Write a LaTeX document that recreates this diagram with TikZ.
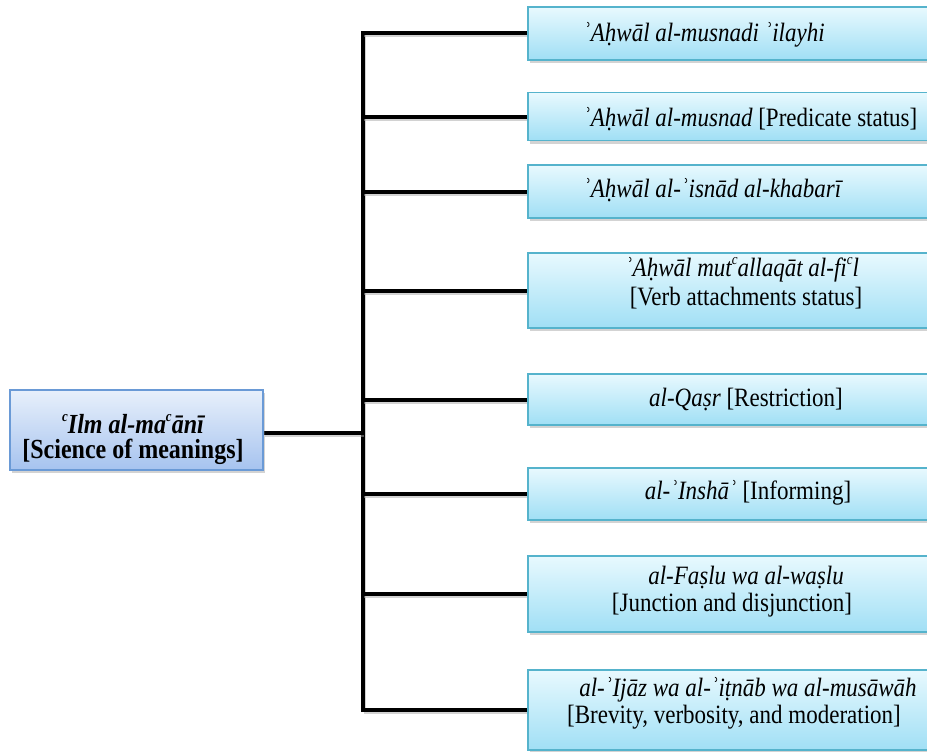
\documentclass[tikz,border=0pt]{standalone}
\usepackage{fontspec}
\setmainfont{Liberation Serif}
\usetikzlibrary{shadows,backgrounds}

\definecolor{leafline}{HTML}{55B3CC}
\definecolor{leaftop}{HTML}{E8F9FE}
\definecolor{leafbot}{HTML}{A0DFF5}
\definecolor{rootline}{HTML}{6A9AD6}
\definecolor{roottop}{HTML}{E8F0FB}
\definecolor{rootbot}{HTML}{A6C3EF}

% small raised c standing for the letter ayn
\newcommand{\ay}{\raisebox{0.42em}{\fontsize{13}{13}\selectfont c}}
% slightly tall lettering
\newcommand{\tall}[1]{\scalebox{1}[1.15]{#1}}

\begin{document}
\begin{tikzpicture}[x=1pt,y=-1pt,
  leaf/.style={draw=leafline, line width=1.2pt, top color=leaftop, bottom color=leafbot,
    minimum width=436pt, inner sep=0pt,
    drop shadow={shadow xshift=1.5pt, shadow yshift=-3pt, opacity=0.35}},
  rootbox/.style={draw=rootline, line width=1.2pt, top color=roottop, bottom color=rootbot,
    minimum width=253pt, minimum height=80pt, inner sep=0pt,
    drop shadow={shadow xshift=1.5pt, shadow yshift=-3pt, opacity=0.35}},
  lbl/.style={font=\fontsize{23}{28}\selectfont, inner sep=0pt},
  rootlbl/.style={font=\fontsize{24}{28}\selectfont\bfseries, inner sep=0pt},
  link/.style={line width=4pt, black, line cap=rect,
    preaction={draw=black!35, opacity=0.5, line width=4pt, transform canvas={xshift=1pt,yshift=-2pt}}}
]
\useasboundingbox (0,0) rectangle (927,752);
\clip (0,0) rectangle (927,752);

% root box
\node[rootbox] (root) at (136.5,430) {};
\node[rootlbl, anchor=base] (r1) at (133,433) {\tall{\itshape\ay Ilm al-ma\ay ānī}};
\node[rootlbl, anchor=base] (r2) at (133,458) {\tall{[Science of meanings]}};

% branch boxes
\node[leaf, minimum height=53pt] (b1) at (746,33.5) {};
\node[leaf, minimum height=48pt] (b2) at (746,116.5) {};
\node[leaf, minimum height=53pt] (b3) at (746,191.5) {};
\node[leaf, minimum height=75pt] (b4) at (746,290.5) {};
\node[leaf, minimum height=51pt] (b5) at (746,399.5) {};
\node[leaf, minimum height=52pt] (b6) at (746,494) {};
\node[leaf, minimum height=76pt] (b7) at (746,594) {};
\node[leaf, minimum height=80pt] (b8) at (746,710) {};

% labels
\node[lbl, anchor=base west] (t1) at (583,42) {\tall{\itshape ʾAḥwāl al-musnadi ʾilayhi}};
\node[lbl, anchor=base west] (t2) at (583,126) {\tall{\textit{ʾAḥwāl al-musnad} [Predicate status]}};
\node[lbl, anchor=base west] (t3) at (583,197) {\tall{\itshape ʾAḥwāl al-ʾisnād al-khabarī}};
\node[lbl, anchor=base] (t4a) at (742,276) {\tall{\itshape ʾAḥwāl mut\ay allaqāt al-fi\ay l}};
\node[lbl, anchor=base] (t4b) at (746,305) {\tall{[Verb attachments status]}};
\node[lbl, anchor=base] (t5) at (746,406) {\tall{\textit{al-Qaṣr} [Restriction]}};
\node[lbl, anchor=base] (t6) at (748,499) {\tall{\textit{al-ʾInshāʾ} [Informing]}};
\node[lbl, anchor=base] (t7a) at (746,584) {\tall{\itshape al-Faṣlu wa al-waṣlu}};
\node[lbl, anchor=base] (t7b) at (732,611) {\tall{[Junction and disjunction]}};
\node[lbl, anchor=base] (t8a) at (748,696) {\tall{\itshape al-ʾIjāz wa al-ʾiṭnāb wa al-musāwāh}};
\node[lbl, anchor=base] (t8b) at (734,723) {\tall{[Brevity, verbosity, and moderation]}};

% connectors
\coordinate (spine) at (363,0);
\begin{scope}[on background layer]
  \draw[link] (b1.west -| spine) -- (b8.west -| spine);
  \draw[link] ([yshift=-3pt]root.east) -- ([yshift=-3pt]root.east -| spine);
  \foreach \b in {b1,b2,b3,b4,b5,b6,b7,b8}
    \draw[link] (\b.west -| spine) -- (\b.west);
\end{scope}
\end{tikzpicture}
\end{document}
